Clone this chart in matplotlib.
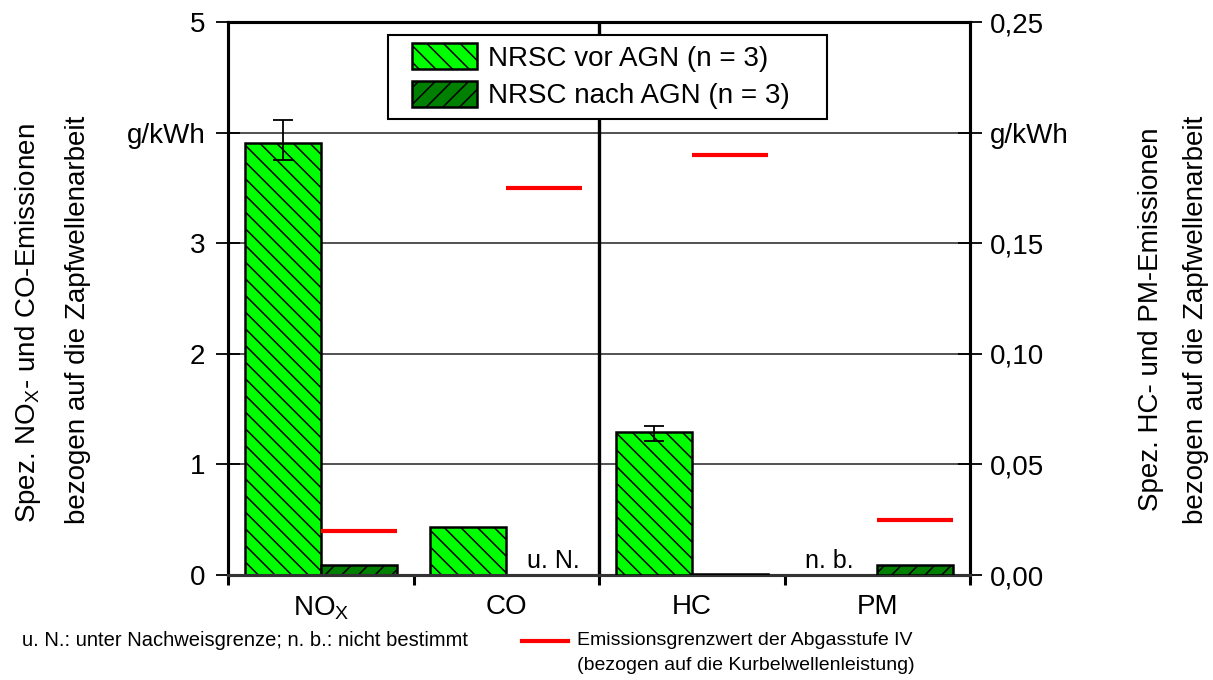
import numpy as np
import matplotlib
matplotlib.use("Agg")
import matplotlib.pyplot as plt
from matplotlib.lines import Line2D
from matplotlib.patches import Rectangle

plt.rcParams['font.family'] = ['Liberation Sans', 'DejaVu Sans']
plt.rcParams['hatch.linewidth'] = 1.1

# categories and values
categories = ['NO$_\\mathregular{X}$', 'CO', 'HC', 'PM']
# NOx and CO on the left axis (g/kWh)
vor_left = [3.91, 0.43]
nach_left = [0.09, 0.0]
err_left_lo = [0.16, 0.0]
err_left_hi = [0.20, 0.0]
limit_left = [0.4, 3.5]
# HC and PM on the right axis (g/kWh), PM vor not determined
vor_right = [0.0648, np.nan]
nach_right = [0.0006, 0.0045]
err_right_lo = [0.0041, 0.0]
err_right_hi = [0.0026, 0.0]
limit_right = [0.19, 0.025]

left_ticks = [0, 1, 2, 3, 4, 5]
left_labels = ['0', '1', '2', '3', 'g/kWh', '5']
right_ticks = [0, 0.05, 0.10, 0.15, 0.20, 0.25]
right_labels = ['0,00', '0,05', '0,10', '0,15', 'g/kWh', '0,25']

green_light = '#00ff00'
green_dark = '#008000'
w = 0.41

fig = plt.figure(figsize=(12.13, 6.8), dpi=100)
ax = fig.add_axes([0.188, 0.1544, 0.6117, 0.8132])
ax2 = ax.twinx()

x = np.arange(len(categories))
xl = x[:2]
xr = x[2:]

# left group (NOx, CO)
b1 = ax.bar(xl - w, vor_left, w, align='edge', color=green_light, edgecolor='black',
            hatch='\\\\', linewidth=1.8, zorder=3, label='NRSC vor AGN (n = 3)')
b2 = ax.bar(xl, nach_left, w, align='edge', color=green_dark, edgecolor='black',
            hatch='//', linewidth=1.8, zorder=3, label='NRSC nach AGN (n = 3)')
ax.errorbar(xl[:1] - w / 2, vor_left[:1], yerr=[err_left_lo[:1], err_left_hi[:1]],
            fmt='none', ecolor='black', elinewidth=1.3, capsize=7.5, capthick=1.3, zorder=4)
ax.hlines(limit_left, xl, xl + w, colors='#ff0000', linewidth=3, zorder=4)

# right group (HC, PM)
ax2.bar(xr - w, vor_right, w, align='edge', color=green_light, edgecolor='black',
        hatch='\\\\', linewidth=1.8, zorder=3)
ax2.bar(xr, nach_right, w, align='edge', color=green_dark, edgecolor='black',
        hatch='//', linewidth=1.8, zorder=3)
ax2.errorbar(xr[:1] - w / 2, vor_right[:1], yerr=[err_right_lo[:1], err_right_hi[:1]],
             fmt='none', ecolor='black', elinewidth=1.3, capsize=7.5, capthick=1.3, zorder=4)
ax2.hlines(limit_right, xr, xr + w, colors='#ff0000', linewidth=3, zorder=4)

ax.set_xlim(-0.5, 3.5)
ax.set_ylim(0, 5)
ax2.set_ylim(0, 0.25)

# grid lines and divider between the two axis groups
for yv in left_ticks[1:-1]:
    ax.axhline(yv, color='#333333', linewidth=1.2, zorder=1)
ax.axvline(1.5, color='black', linewidth=2.4, zorder=2)

# y ticks
ax.set_yticks(left_ticks)
ax.set_yticklabels(left_labels)
ax2.set_yticks(right_ticks)
ax2.set_yticklabels(right_labels)
ax.tick_params(axis='y', direction='inout', length=17, width=1.3, labelsize=20, pad=8)
ax2.tick_params(axis='y', direction='inout', length=17, width=1.3, labelsize=20, pad=6)

# x ticks at category borders, labels at the centres
ax.set_xticks([-0.5, 0.5, 1.5, 2.5, 3.5])
ax.set_xticklabels([''] * 5)
ax.set_xticks(x, minor=True)
ax.set_xticklabels(categories, minor=True, fontsize=20)
ax.tick_params(axis='x', which='major', direction='out', length=7, width=2.2)
ax.tick_params(axis='x', which='minor', length=0, pad=14)

for a in (ax, ax2):
    for s in a.spines.values():
        s.set_linewidth(2.2)
        s.set_color('black')
ax.spines['bottom'].set_color('#333333')
ax2.spines['bottom'].set_color('#333333')

# "unter Nachweisgrenze" / "nicht bestimmt" marks
ax.text(1.398, 0.015, 'u. N.', fontsize=18, ha='right', va='bottom', zorder=5)
ax.text(2.875, 0.015, 'n. b.', fontsize=18, ha='right', va='bottom', zorder=5)

# legend: entries without frame, box drawn separately behind them
ax2.add_patch(Rectangle((0.2156, 0.8246), 0.5917, 0.1519, transform=ax2.transAxes,
                        facecolor='white', edgecolor='black', linewidth=1.5, zorder=9))
leg = ax2.legend(handles=[b1, b2], loc='upper left', bbox_to_anchor=(0.248, 0.962),
                 fontsize=20, frameon=False, handlelength=2.35, handleheight=1.08,
                 borderpad=0, labelspacing=0.33, handletextpad=0.4, borderaxespad=0)
leg.set_zorder(10)

# axis titles
fig.text(0.023, 0.525, 'Spez. NO$_\\mathregular{X}$- und CO-Emissionen', rotation=90,
         fontsize=20, ha='center', va='center')
fig.text(0.064, 0.53, 'bezogen auf die Zapfwellenarbeit', rotation=90,
         fontsize=20, ha='center', va='center')
fig.text(0.949, 0.53, 'Spez. HC- und PM-Emissionen', rotation=90,
         fontsize=20, ha='center', va='center')
fig.text(0.986, 0.53, 'bezogen auf die Zapfwellenarbeit', rotation=90,
         fontsize=20, ha='center', va='center')

# notes below the chart
fig.text(0.018, 0.058, 'u. N.: unter Nachweisgrenze; n. b.: nicht bestimmt', fontsize=14.5,
         ha='left', va='center')
fig.add_artist(Line2D([0.430, 0.468], [0.057, 0.057], transform=fig.transFigure,
                      color='#ff0000', linewidth=3))
fig.text(0.476, 0.058, 'Emissionsgrenzwert der Abgasstufe IV', fontsize=14,
         ha='left', va='center')
fig.text(0.476, 0.021, '(bezogen auf die Kurbelwellenleistung)', fontsize=14,
         ha='left', va='center')

fig.savefig('out.png', dpi=100)
